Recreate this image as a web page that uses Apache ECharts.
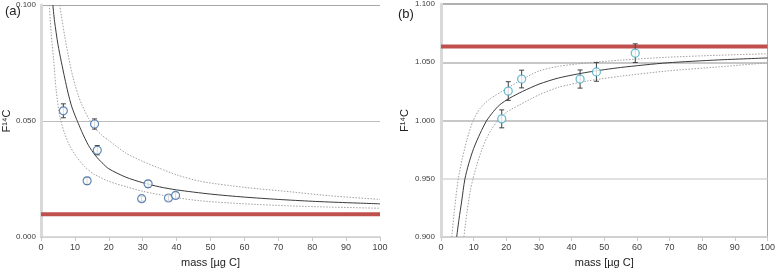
<!DOCTYPE html>
<html>
<head>
<meta charset="utf-8">
<script src="https://cdn.jsdelivr.net/npm/echarts@6/dist/echarts.min.js"></script>
<style>
  html, body { margin: 0; padding: 0; background: #fff; }
  #chart { width: 778px; height: 273px; }
</style>
</head>
<body>
<div id="chart"></div>
<script>
// (a) measured points [mass, F14C] and 1-sigma errors
const massA = [6.6, 15.8, 16.6, 13.6, 31.6, 29.7, 37.6, 39.7];
const valA = [0.0544, 0.0487, 0.0374, 0.0242, 0.0229, 0.0165, 0.0168, 0.0179];
const errA = [0.003, 0.0022, 0.002, 0.0015, 0.0015, 0.001, 0.001, 0.0012];

// (a) fitted curve and its envelope
const fitA = [[3.5, 0.100], [4, 0.093], [5, 0.083], [6, 0.0755], [7, 0.0685], [8, 0.062], [9, 0.0565], [10, 0.0525], [11, 0.049], [12, 0.0455], [14, 0.0395], [16, 0.0352], [18, 0.032], [20, 0.0294], [25, 0.0258], [30, 0.0234], [35, 0.0216], [40, 0.0203], [50, 0.0185], [60, 0.0172], [70, 0.0162], [80, 0.0154], [90, 0.0148], [100, 0.0143]];
const upperA = [[5.5, 0.100], [6, 0.0955], [7, 0.0865], [8, 0.0785], [9, 0.0715], [10, 0.0658], [11, 0.061], [12, 0.0572], [14, 0.0512], [16, 0.0468], [18, 0.0438], [20, 0.0416], [25, 0.0362], [30, 0.0326], [35, 0.0296], [40, 0.0268], [47, 0.0240], [60, 0.0214], [73.5, 0.0195], [85, 0.0178], [100, 0.0162]];
const lowerA = [[2.45, 0.100], [3, 0.088], [3.7, 0.0767], [4.5, 0.063], [5.6, 0.0515], [7, 0.0445], [8.5, 0.0392], [10.6, 0.0343], [13, 0.0302], [15.5, 0.0272], [20, 0.0240], [25.3, 0.0216], [30, 0.0197], [38.1, 0.0174], [47, 0.0156], [60, 0.0143], [73.5, 0.0134], [85, 0.0129], [100, 0.0124]];
const refA = 0.0098;

// (b) measured points
const massB = [18.6, 20.6, 24.7, 42.6, 47.6, 59.5];
const valB = [1.0014, 1.0253, 1.0356, 1.0356, 1.0417, 1.0578];
const errB = [0.0077, 0.008, 0.0076, 0.0078, 0.008, 0.008];

const fitB = [[4.8, 0.900], [5.5, 0.915], [6.3, 0.930], [7.3, 0.9495], [8.5, 0.963], [10, 0.976], [12, 0.989], [13.9, 0.9995], [16, 1.0075], [18, 1.0135], [20.9, 1.019], [25, 1.025], [30, 1.0312], [36, 1.0365], [45, 1.0415], [55, 1.0455], [69.3, 1.0495], [85, 1.0520], [100, 1.0537]];
const upperB = [[3.3, 0.900], [4, 0.920], [4.6, 0.935], [5.3, 0.950], [6.5, 0.967], [8, 0.984], [9.8, 0.9995], [12, 1.0105], [15, 1.0185], [19.9, 1.027], [25, 1.0355], [30, 1.0425], [36, 1.0465], [45, 1.0495], [55, 1.0518], [69.3, 1.0543], [85, 1.0560], [100, 1.0573]];
const lowerB = [[7.0, 0.900], [8, 0.922], [9, 0.940], [9.8, 0.950], [11, 0.962], [12.5, 0.975], [14, 0.985], [15.5, 0.9925], [17.4, 1.000], [20, 1.007], [24, 1.0133], [30, 1.022], [36, 1.0285], [45, 1.034], [55, 1.038], [69.3, 1.0425], [85, 1.046], [100, 1.0495]];
const refB = 1.0635;

const xTicks = [0, 10, 20, 30, 40, 50, 60, 70, 80, 90, 100];
const yTicksA = [0.000, 0.050, 0.100];
const yTicksB = [0.900, 0.950, 1.000, 1.050, 1.100];

const textColor = "#404040";
const font = "Liberation Sans, Arial, sans-serif";

const chart = echarts.init(document.getElementById("chart"), null, { renderer: "canvas" });

const pairs = (xs, ys) => xs.map((x, i) => [x, ys[i]]);
const errData = (xs, ys, es) => xs.map((x, i) => [x, ys[i] - es[i], ys[i] + es[i]]);

const errorBarRender = (params, api) => {
  const lo = api.coord([api.value(0), api.value(1)]);
  const hi = api.coord([api.value(0), api.value(2)]);
  const cap = 2.5;
  const style = { stroke: "#404040", lineWidth: 1 };
  return {
    type: "group",
    children: [
      { type: "line", shape: { x1: lo[0], y1: lo[1], x2: hi[0], y2: hi[1] }, style },
      { type: "line", shape: { x1: lo[0] - cap, y1: lo[1], x2: lo[0] + cap, y2: lo[1] }, style },
      { type: "line", shape: { x1: hi[0] - cap, y1: hi[1], x2: hi[0] + cap, y2: hi[1] }, style }
    ]
  };
};

const xAxisCommon = (gridIndex) => ({
  type: "value",
  gridIndex,
  min: xTicks[0],
  max: xTicks[xTicks.length - 1],
  interval: 10,
  name: "mass [µg C]",
  nameLocation: "middle",
  nameGap: 20,
  nameTextStyle: { color: "#222", fontSize: 11, fontFamily: font },
  axisLine: { lineStyle: { color: "#d0d0d0", width: 1.5 } },
  axisTick: { show: true, length: 4, lineStyle: { color: "#c8c8c8" } },
  axisLabel: { color: textColor, fontSize: 9, fontFamily: font, margin: 6 },
  splitLine: { show: false }
});

const curve = (data, xi, solid) => ({
  type: "line",
  xAxisIndex: xi,
  yAxisIndex: xi,
  data,
  smooth: 0.25,
  showSymbol: false,
  silent: true,
  lineStyle: solid
    ? { color: "#3a3a3a", width: 1 }
    : { color: "#a0a0a0", width: 1, type: [1.5, 1.5] },
  z: 3
});

const refLine = (y, xi) => ({
  type: "line",
  xAxisIndex: xi,
  yAxisIndex: xi,
  data: [[0, y], [100, y]],
  showSymbol: false,
  silent: true,
  lineStyle: { color: "#c0504d", width: 4 },
  z: 2
});

chart.setOption({
  animation: false,
  backgroundColor: "#fff",
  textStyle: { fontFamily: font },
  title: [
    { text: "(a)", left: 0, top: 0, textStyle: { fontSize: 13, fontWeight: "normal", color: "#222" } },
    { text: "(b)", left: 393, top: 3, textStyle: { fontSize: 13, fontWeight: "normal", color: "#222" } }
  ],
  grid: [
    { left: 41, right: 398, top: 5, bottom: 32 },
    { left: 441, right: 6, top: 3, bottom: 30, show: true, borderColor: "#a6a6a6", borderWidth: 1 }
  ],
  xAxis: [xAxisCommon(0), xAxisCommon(1)],
  yAxis: [
    {
      type: "value",
      gridIndex: 0,
      min: yTicksA[0],
      max: yTicksA[yTicksA.length - 1],
      interval: 0.05,
      name: "F¹⁴C",
      nameLocation: "middle",
      nameRotate: 90,
      nameGap: 28,
      nameTextStyle: { color: "#222", fontSize: 11 },
      axisLine: { show: true, lineStyle: { color: "#d9d9d9", width: 3 } },
      axisTick: { show: false },
      axisLabel: { color: textColor, fontSize: 8, margin: 5, formatter: (v) => v.toFixed(3) },
      splitLine: { show: true, lineStyle: { color: ["#d0d0d0", "#bdbdbd", "#a6a6a6"], width: 1 } }
    },
    {
      type: "value",
      gridIndex: 1,
      min: yTicksB[0],
      max: yTicksB[yTicksB.length - 1],
      interval: 0.05,
      name: "F¹⁴C",
      nameLocation: "middle",
      nameRotate: 90,
      nameGap: 31,
      nameTextStyle: { color: "#222", fontSize: 11 },
      axisLine: { show: true, lineStyle: { color: "#d9d9d9", width: 3 } },
      axisTick: { show: false },
      axisLabel: { color: textColor, fontSize: 8, margin: 6, formatter: (v) => v.toFixed(3) },
      splitLine: { show: true, lineStyle: { color: ["#d0d0d0", "#d6d6d6", "#b5b5b5", "#b5b5b5", "#a6a6a6"], width: 1.5 } }
    }
  ],
  series: [
    refLine(refA, 0),
    curve(upperA, 0, false),
    curve(lowerA, 0, false),
    curve(fitA, 0, true),
    {
      type: "custom",
      xAxisIndex: 0,
      yAxisIndex: 0,
      data: errData(massA, valA, errA),
      renderItem: errorBarRender,
      z: 4
    },
    {
      type: "scatter",
      xAxisIndex: 0,
      yAxisIndex: 0,
      data: pairs(massA, valA),
      symbol: "circle",
      symbolSize: 8,
      itemStyle: { color: "#fff", borderColor: "#3a6aa5", borderWidth: 1.2 },
      z: 5
    },
    refLine(refB, 1),
    curve(upperB, 1, false),
    curve(lowerB, 1, false),
    curve(fitB, 1, true),
    {
      type: "custom",
      xAxisIndex: 1,
      yAxisIndex: 1,
      data: errData(massB, valB, errB),
      renderItem: errorBarRender,
      z: 4
    },
    {
      type: "scatter",
      xAxisIndex: 1,
      yAxisIndex: 1,
      data: pairs(massB, valB),
      symbol: "circle",
      symbolSize: 8,
      itemStyle: { color: "#fff", borderColor: "#4bacc6", borderWidth: 1.3 },
      z: 5
    }
  ]
});
</script>
</body>
</html>
